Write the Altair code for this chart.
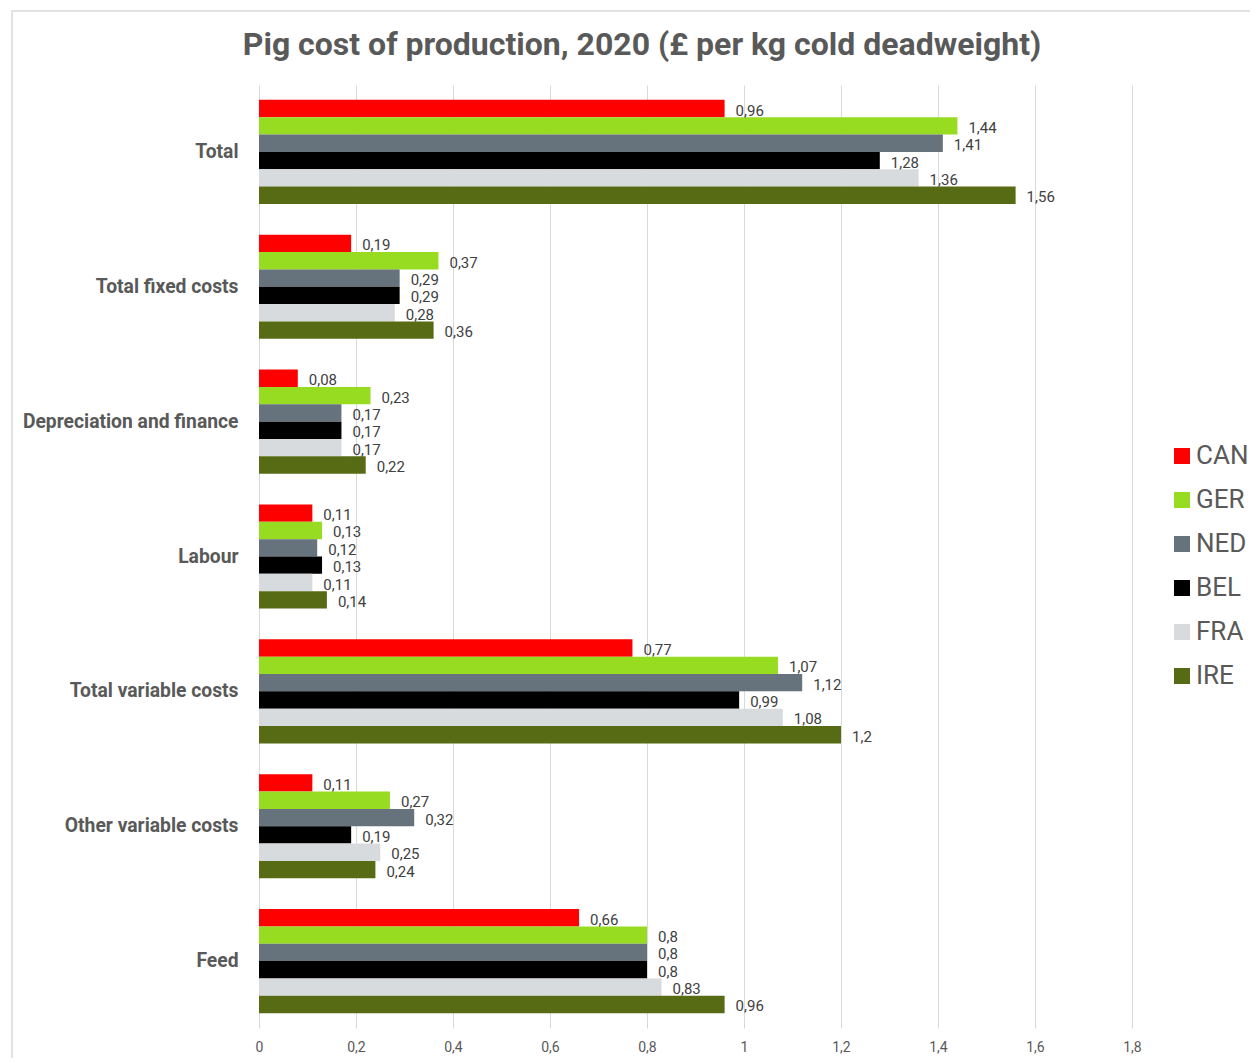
import altair as alt
import pandas as pd

categories = ["Total", "Total fixed costs", "Depreciation and finance", "Labour",
              "Total variable costs", "Other variable costs", "Feed"]
countries = ["CAN", "GER", "NED", "BEL", "FRA", "IRE"]
colors = ["#FF0000", "#97DC21", "#66737C", "#000000", "#D8DBDE", "#566B13"]

CAN = [0.96, 0.19, 0.08, 0.11, 0.77, 0.11, 0.66]
GER = [1.44, 0.37, 0.23, 0.13, 1.07, 0.27, 0.80]
NED = [1.41, 0.29, 0.17, 0.12, 1.12, 0.32, 0.80]
BEL = [1.28, 0.29, 0.17, 0.13, 0.99, 0.19, 0.80]
FRA = [1.36, 0.28, 0.17, 0.11, 1.08, 0.25, 0.83]
IRE = [1.56, 0.36, 0.22, 0.14, 1.20, 0.24, 0.96]

title_text = "Pig cost of production, 2020 (£ per kg cold deadweight)"

series = {"CAN": CAN, "GER": GER, "NED": NED, "BEL": BEL, "FRA": FRA, "IRE": IRE}
rows = []
for c in countries:
    for cat, v in zip(categories, series[c]):
        rows.append({"category": cat, "country": c, "value": v})
df = pd.DataFrame(rows)

FONT = "Roboto"
GRAY = "#595959"

y_enc = alt.Y("category:N", sort=categories, title=None,
              scale=alt.Scale(paddingInner=0.228, paddingOuter=0.11),
              axis=alt.Axis(labelFont=FONT, labelFontSize=19.3, labelFontWeight="bold",
                            labelColor=GRAY, labelPadding=21, ticks=False, domain=False,
                            grid=False, labelLimit=400))
yoff = alt.YOffset("country:N", sort=countries)
x_enc = alt.X("value:Q", title=None,
              scale=alt.Scale(domain=[0, 1.8], nice=False),
              axis=alt.Axis(values=[0, 0.2, 0.4, 0.6, 0.8, 1.0, 1.2, 1.4, 1.6, 1.8],
                            format=".1~f",
                            labelExpr="replace(datum.label, '.', ',')",
                            labelFont=FONT, labelFontSize=14, labelColor=GRAY,
                            labelPadding=12, labelFlush=False, ticks=False, domain=False,
                            grid=True, gridColor="#D9D9D9", gridWidth=1))

base = alt.Chart(df)

bars = base.mark_bar().encode(
    y=y_enc, yOffset=yoff, x=x_enc,
    color=alt.Color("country:N", sort=countries,
                    scale=alt.Scale(domain=countries, range=colors),
                    legend=alt.Legend(title=None, orient="none", legendX=910, legendY=358,
                                      symbolType="square", symbolSize=256,
                                      symbolStrokeWidth=0,
                                      labelFont=FONT, labelFontSize=26, labelColor=GRAY,
                                      rowPadding=18, labelOffset=1)),
)

labels = base.transform_calculate(
    lab="replace(toString(datum.value), '.', ',')"
).mark_text(align="left", baseline="middle", dx=11, dy=2, font=FONT, fontSize=15,
            color="#404040").encode(
    y=alt.Y("category:N", sort=categories), yOffset=yoff,
    x=alt.X("value:Q"), text="lab:N",
)

frame = alt.Chart(pd.DataFrame({"v": [0]})).mark_rect(
    fill=None, stroke="#D9D9D9", strokeWidth=1.5
).encode(x=alt.value(-247), x2=alt.value(1100), y=alt.value(-74), y2=alt.value(1100))

title = alt.Chart(pd.DataFrame({"t": [title_text]})).mark_text(
    font=FONT, fontSize=32, fontWeight="bold", color=GRAY,
    align="center", baseline="alphabetic"
).encode(x=alt.value(383), y=alt.value(-30), text="t:N")

chart = alt.layer(frame, bars, labels, title).properties(
    width=873, height=943,
    padding={"left": 251, "top": 77, "right": 118, "bottom": 30},
    autosize=alt.AutoSizeParams(type="none"),
).configure_view(stroke=None)

chart.save("out.html", embed_options={"renderer": "svg", "actions": False})
